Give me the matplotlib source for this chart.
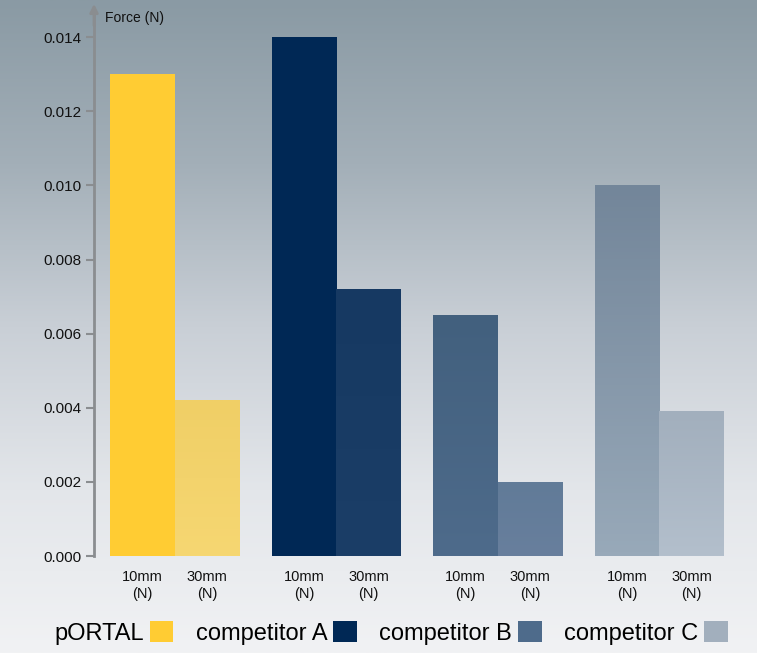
import numpy as np
import matplotlib
matplotlib.use("Agg")
import matplotlib.pyplot as plt
from matplotlib.patches import Patch
from matplotlib.colors import LinearSegmentedColormap

plt.rcParams['font.family'] = ['Liberation Sans', 'DejaVu Sans']

brands = ["pORTAL", "competitor A", "competitor B", "competitor C"]
series = ["10mm\n(N)", "30mm\n(N)"]
val_10mm = [0.0130, 0.0140, 0.0065, 0.0100]
val_30mm = [0.0042, 0.0072, 0.0020, 0.0039]
yticks = [0.000, 0.002, 0.004, 0.006, 0.008, 0.010, 0.012, 0.014]

# (top colour, bottom colour) per bar
colors_10 = [("#ffcc33", "#ffcc33"), ("#002855", "#002855"),
             ("#42607e", "#4e6b8b"), ("#73869a", "#98a9b9")]
colors_30 = [("#f0cf66", "#f6d772"), ("#163962", "#1b3e67"),
             ("#617b98", "#687f9d"), ("#a2afbd", "#b3bfcc")]
legend_colors = ["#ffcc33", "#002855", "#4e6b8b", "#a2afbd"]

W, H = 757, 653
fig = plt.figure(figsize=(W / 100, H / 100), dpi=100)

# background gradient
bg = fig.add_axes([0, 0, 1, 1], zorder=-10)
bg.set_axis_off()
bg_cmap = LinearSegmentedColormap.from_list(
    "bg", ["#8a9aa4", "#a3afb8", "#c9cfd6", "#e3e6ea", "#f1f2f4"])
grad = np.linspace(0, 1, 256).reshape(-1, 1)
bg.imshow(grad, aspect="auto", cmap=bg_cmap, extent=[0, 1, 0, 1], origin="upper")

ax = fig.add_axes([94 / W, (H - 556) / H, (740 - 94) / W, (556 - 12) / H])
ax.patch.set_alpha(0)

x = np.arange(len(brands))
w = 0.4


def grad_bar(xc, val, cols):
    b = ax.bar(xc, val, width=w, color=cols[0], linewidth=0, zorder=2)[0]
    cm = LinearSegmentedColormap.from_list("c", [cols[0], cols[1]])
    im = ax.imshow(np.linspace(0, 1, 100).reshape(-1, 1), cmap=cm, aspect="auto",
                   extent=[xc - w / 2, xc + w / 2, 0, val], origin="upper", zorder=3)
    im.set_clip_path(b)
    return b


for i in range(len(brands)):
    grad_bar(x[i] - w / 2, val_10mm[i], colors_10[i])
    grad_bar(x[i] + w / 2, val_30mm[i], colors_30[i])
ax.set_xlim(-0.5, 3.5)
ax.set_ylim(0, 0.01468)

for s in ["top", "right", "bottom"]:
    ax.spines[s].set_visible(False)
ax.spines["left"].set_color("#8a8d90")
ax.spines["left"].set_linewidth(2)
ax.set_yticks(yticks)
ax.set_yticklabels([f"{t:.3f}" for t in yticks])
ax.tick_params(axis="y", direction="out", length=6, width=1.5, color="#8a8d90",
               labelsize=11, labelcolor="#111111", pad=3)

pos = np.concatenate([x - w / 2, x + w / 2])
labs = [series[0]] * 4 + [series[1]] * 4
ax.set_xticks(pos)
ax.set_xticklabels(labs, fontsize=10.5, color="#111111", linespacing=1.3)
ax.tick_params(axis="x", length=0, pad=10)

# arrow on y axis
ax.annotate("", xy=(0, 1.02), xycoords="axes fraction", xytext=(0, 0.97),
            arrowprops=dict(arrowstyle="-|>", color="#8a8d90", lw=2,
                            mutation_scale=12), annotation_clip=False)
fig.text(105 / W, 1 - 18 / H, "Force (N)", fontsize=10, color="#111111",
         va="center", ha="left")

handles = [Patch(facecolor=c, edgecolor="none") for c in legend_colors]
fig.legend(handles, brands, loc="center", bbox_to_anchor=(391 / W, 1 - 633 / H),
           ncol=4, frameon=False, markerfirst=False, fontsize=17,
           handlelength=1.0, handleheight=1.0, handletextpad=0.25,
           columnspacing=0.95)

fig.savefig("out.png", dpi=100)
